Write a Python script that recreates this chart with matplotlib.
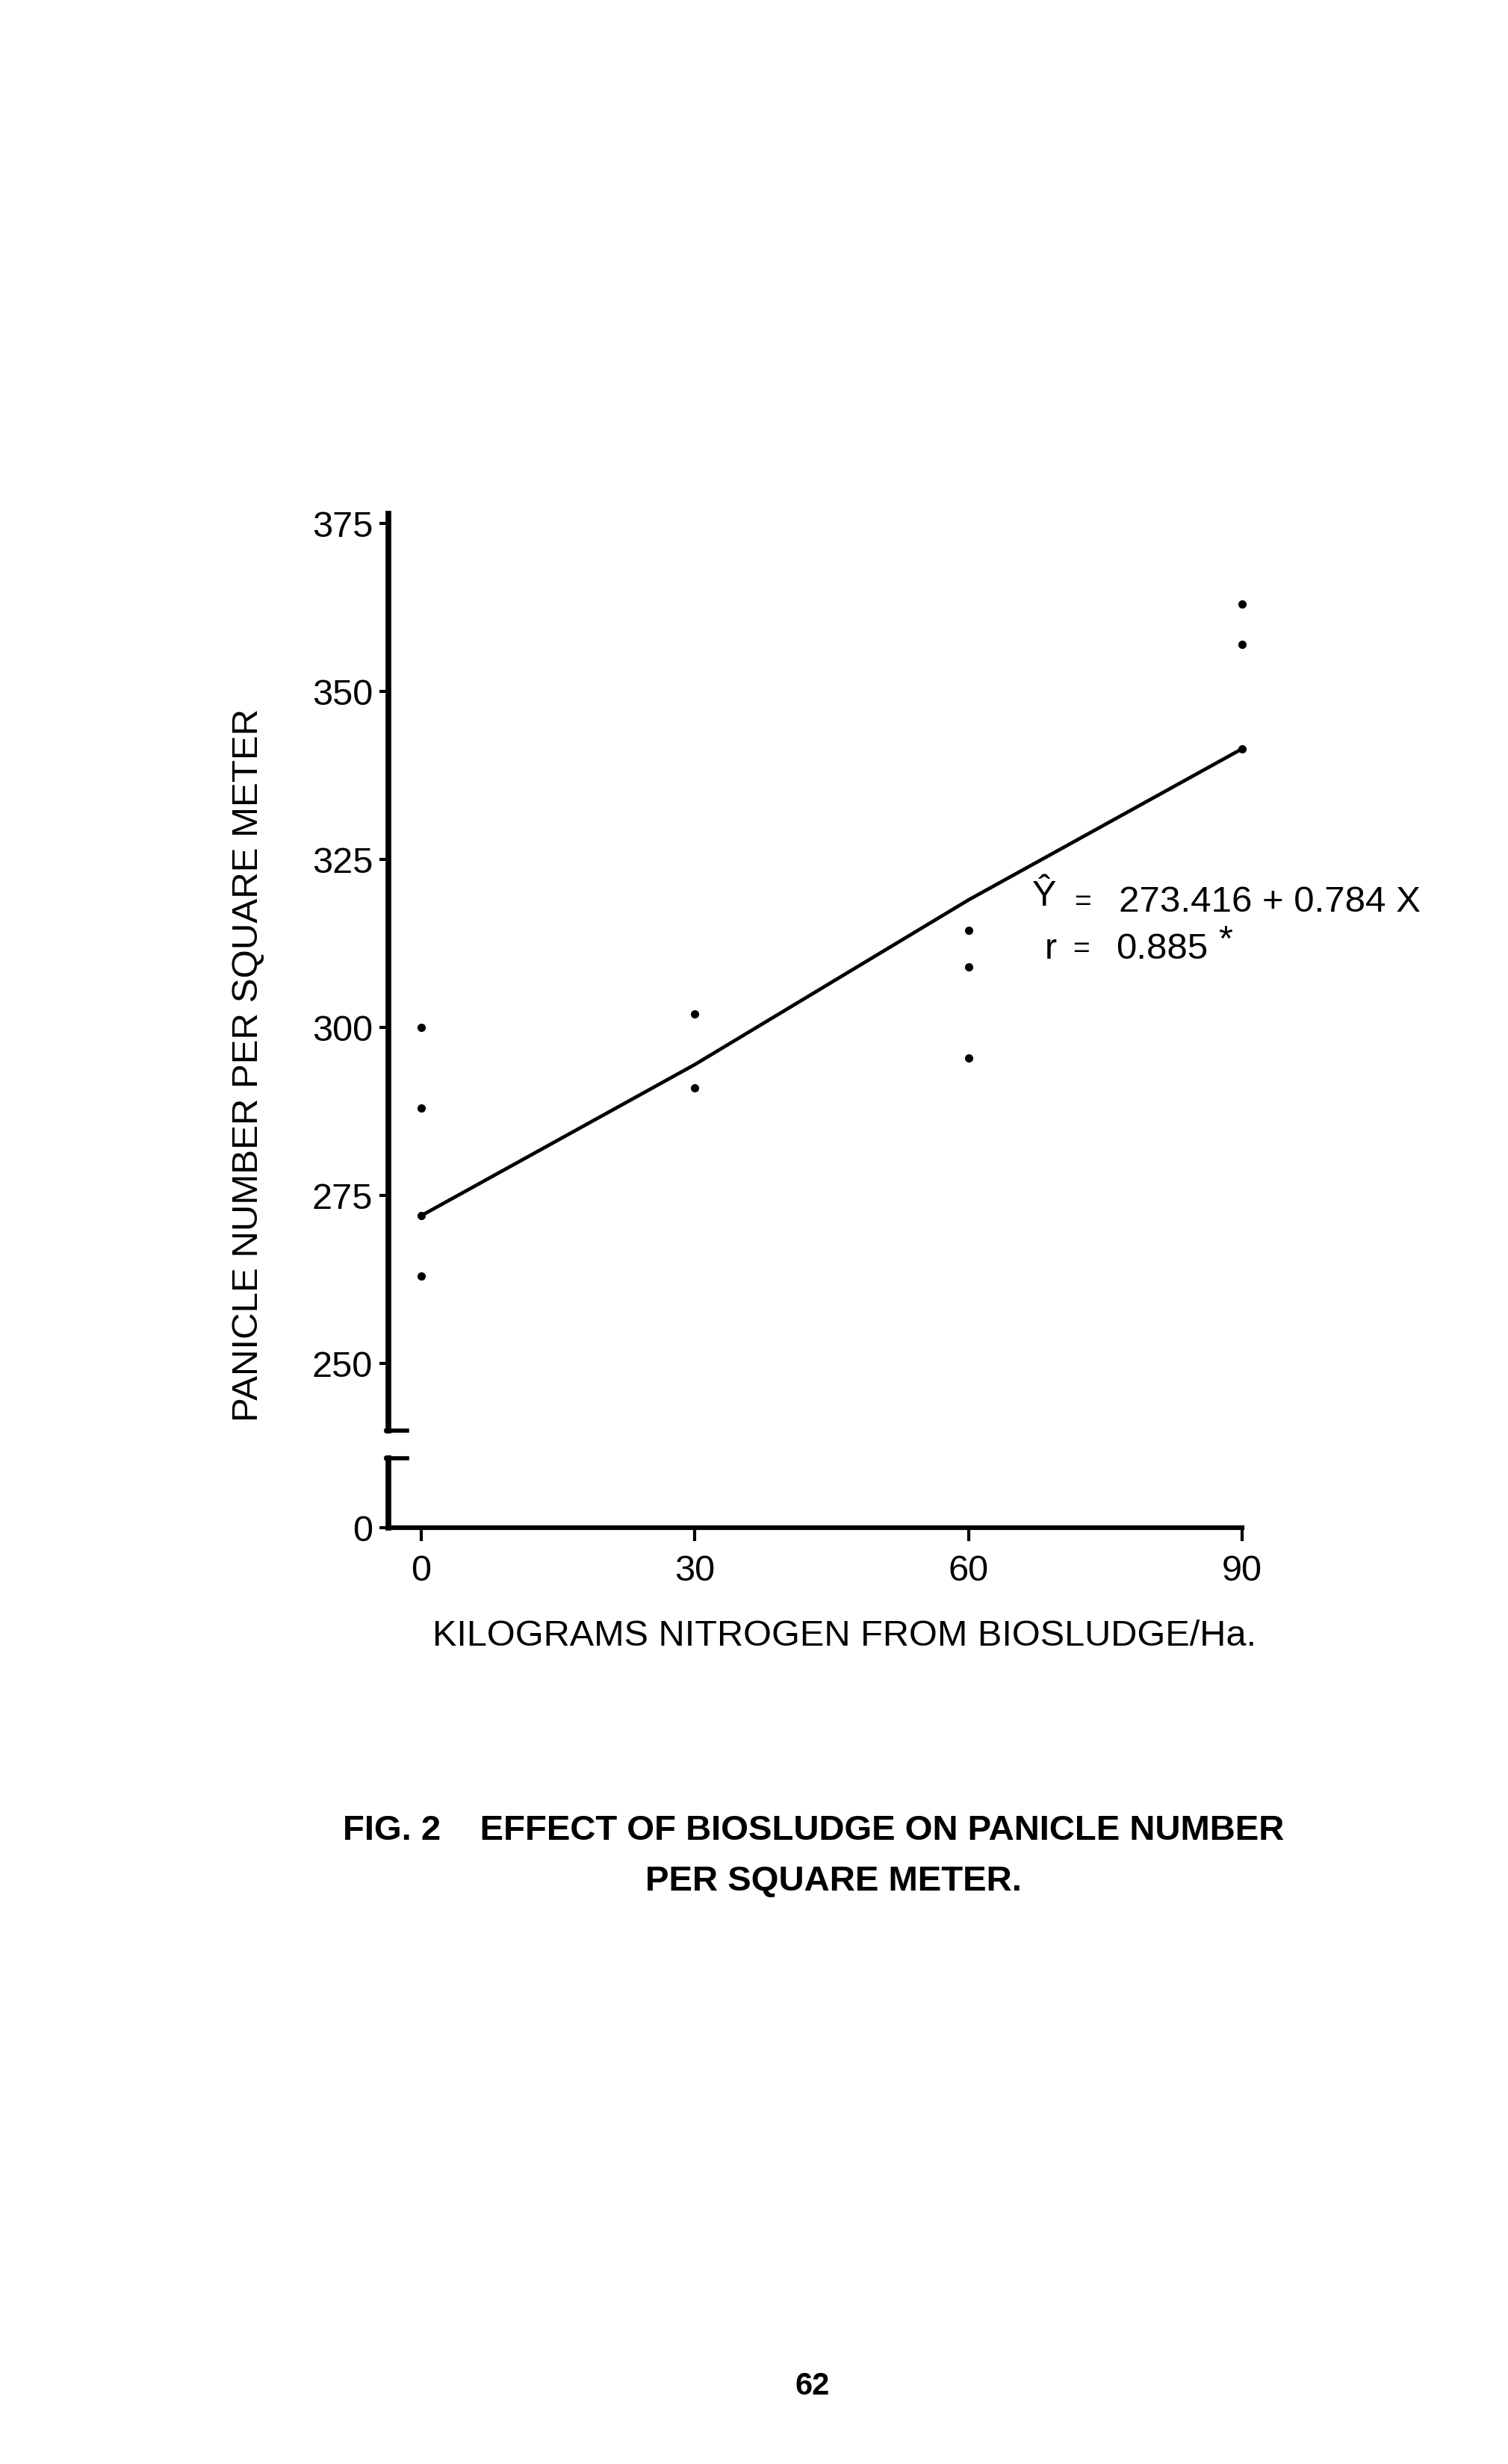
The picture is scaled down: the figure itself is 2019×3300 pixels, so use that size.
import matplotlib
matplotlib.use("Agg")
from matplotlib import pyplot as plt

# data
nitrogen = [0, 0, 0, 0, 30, 30, 60, 60, 60, 90, 90, 90]
panicles = [300, 288, 272, 263, 302, 291, 314.5, 309, 295.5, 363, 357, 341.5]
line_x = [0, 30, 60, 90]
line_y = [272, 294.5, 319, 341.5]
x_ticks = [0, 30, 60, 90]
y_ticks = [250, 275, 300, 325, 350, 375]

plt.rcParams['font.family'] = ['Liberation Sans', 'DejaVu Sans']

fig = plt.figure(figsize=(20.19, 33.0), dpi=100)
fig.patch.set_facecolor('white')

W, H = 2019.0, 3300.0
ax_left = 520 / W
ax_width = (1663 - 520) / W

# upper part of the broken y axis
ax = fig.add_axes([ax_left, 1 - 1916 / H, ax_width, (1916 - 688) / H])
ax.set_xlim(-3.6, 90)
ax.set_ylim(240, 376.5)
for s in ['top', 'right', 'bottom']:
    ax.spines[s].set_visible(False)
ax.spines['left'].set_linewidth(5.5)
ax.set_xticks([])
ax.set_yticks(y_ticks)
ax.tick_params(axis='y', direction='out', length=9, width=3, pad=6, labelsize=35)
ax.plot(line_x, line_y, color='black', lw=3.4, solid_capstyle='round', clip_on=False)
ax.plot(nitrogen, panicles, 'o', color='black', ms=7, clip_on=False)
ax.plot([-0.003, 0.022], [0, 0], color='black', lw=4, transform=ax.transAxes, clip_on=False)

ax.text(67.0, 319.5, "Ŷ", fontsize=35, ha='left', va='center')
ax.text(71.6, 318.6, "=", fontsize=28, ha='left', va='center')
ax.text(76.5, 318.6, "273.416 + 0.784 X", fontsize=35.5, ha='left', va='center')
ax.text(68.4, 311.6, "r", fontsize=35, ha='left', va='center')
ax.text(71.4, 311.6, "=", fontsize=28, ha='left', va='center')
ax.text(76.2, 311.6, "0.885", fontsize=35.5, ha='left', va='center')
ax.text(87.4, 313.0, "*", fontsize=35, ha='left', va='center')

# lower part (zero) with the x axis
ax0 = fig.add_axes([ax_left, 1 - 2046 / H, ax_width, (2046 - 1953) / H])
ax0.set_xlim(-3.6, 90)
ax0.set_ylim(0, 10.3)
for s in ['top', 'right']:
    ax0.spines[s].set_visible(False)
ax0.spines['left'].set_linewidth(5.5)
ax0.spines['bottom'].set_linewidth(4.5)
ax0.set_yticks([0])
ax0.set_xticks(x_ticks)
ax0.tick_params(axis='y', direction='out', length=9, width=3, pad=6, labelsize=35)
ax0.tick_params(axis='x', direction='out', length=13, width=3, pad=13, labelsize=35)
ax0.plot([-0.003, 0.022], [1, 1], color='black', lw=4, transform=ax0.transAxes, clip_on=False)

fig.text(333 / W, 1 - 1426 / H, "PANICLE NUMBER PER SQUARE METER",
         rotation=90, ha='center', va='center', fontsize=35.5)
fig.text(1131 / W, 1 - 2191 / H, "KILOGRAMS NITROGEN FROM BIOSLUDGE/Ha.",
         ha='center', va='center', fontsize=35)

fig.text(459 / W, 1 - 2452 / H, "FIG. 2    EFFECT OF BIOSLUDGE ON PANICLE NUMBER",
         ha='left', va='center', fontsize=34, fontweight='bold')
fig.text(1116 / W, 1 - 2520 / H, "PER SQUARE METER.",
         ha='center', va='center', fontsize=34, fontweight='bold')
fig.text(1088 / W, 1 - 3196 / H, "62", ha='center', va='center', fontsize=30, fontweight='bold')

fig.savefig("out.png", dpi=100, facecolor='white')
